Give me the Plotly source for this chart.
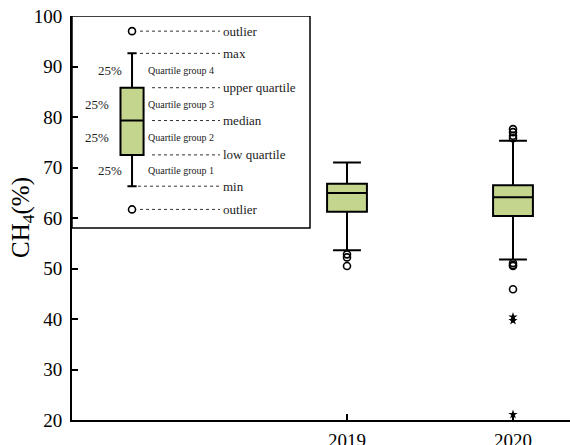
import plotly.graph_objects as go

# ---- data ----
years = [2019, 2020]
q1 = [61.25, 60.4]
median = [64.95, 64.1]
q3 = [66.8, 66.5]
lower_whisker = [53.6, 51.8]
upper_whisker = [71.0, 75.3]

outliers_2019 = [52.8, 52.2, 50.5]
outliers_2020_circle = [77.6, 77.0, 76.3, 75.8, 51.1, 50.7, 50.5, 45.9]
outliers_2020_star = [40.4, 39.7, 21.1]

# schematic legend box (illustrative values)
legend_x = 2017.705
legend_stats = dict(outlier_hi=97.0, max=92.6, q3=85.8, median=79.3, q1=72.5, min=66.3, outlier_lo=61.7)
group_labels = ["Quartile group 4", "Quartile group 3", "Quartile group 2", "Quartile group 1"]
pct_labels = ["25%", "25%", "25%", "25%"]
line_labels = ["outlier", "max", "upper quartile", "median", "low quartile", "min", "outlier"]

box_fill = "#c4d68e"
serif = "Liberation Serif"

# plot area spans 72..570 px; 2019 at 347 px, 166 px per year
def px2x(px):
    return 2019 + (px - 347) / 166.0

fig = go.Figure()

for i, yr in enumerate(years):
    fig.add_trace(go.Box(
        x=[yr], q1=[q1[i]], median=[median[i]], q3=[q3[i]],
        lowerfence=[lower_whisker[i]], upperfence=[upper_whisker[i]],
        width=0.24, whiskerwidth=0.7, boxpoints=False,
        fillcolor=box_fill, line=dict(color="black", width=2),
        showlegend=False,
    ))

fig.add_trace(go.Scatter(
    x=[2019] * len(outliers_2019), y=outliers_2019, mode="markers",
    marker=dict(symbol="circle-open", size=7, color="black", line=dict(width=1.6)),
    showlegend=False))
fig.add_trace(go.Scatter(
    x=[2020] * len(outliers_2020_circle), y=outliers_2020_circle, mode="markers",
    marker=dict(symbol="circle-open", size=7, color="black", line=dict(width=1.6)),
    showlegend=False))
fig.add_trace(go.Scatter(
    x=[2020] * len(outliers_2020_star), y=outliers_2020_star, mode="markers",
    marker=dict(symbol="star", size=7, color="black"),
    showlegend=False))

s = legend_stats
fig.add_trace(go.Box(
    x=[legend_x], q1=[s["q1"]], median=[s["median"]], q3=[s["q3"]],
    lowerfence=[s["min"]], upperfence=[s["max"]],
    width=0.139, whiskerwidth=0.4, boxpoints=False,
    fillcolor=box_fill, line=dict(color="black", width=2),
    showlegend=False))
fig.add_trace(go.Scatter(
    x=[legend_x, legend_x], y=[s["outlier_hi"], s["outlier_lo"]], mode="markers",
    marker=dict(symbol="circle-open", size=7, color="black", line=dict(width=1.6)),
    showlegend=False))

fig.add_shape(type="rect", xref="paper", yref="y", x0=0, x1=(310 - 72) / 498,
              y0=58.0, y1=100, line=dict(color="black", width=1.5), fillcolor="rgba(0,0,0,0)")

line_levels = [s["outlier_hi"], s["max"], s["q3"], s["median"], s["q1"], s["min"], s["outlier_lo"]]
starts = [140, 140, 152, 152, 152, 138, 140]
for lvl, st, lab in zip(line_levels, starts, line_labels):
    fig.add_shape(type="line", xref="x", yref="y", x0=px2x(st), x1=px2x(220),
                  y0=lvl, y1=lvl, line=dict(color="#333333", width=1, dash="dot"))
    fig.add_annotation(x=px2x(221), y=lvl, xref="x", yref="y", text=lab,
                       showarrow=False, xanchor="left", yanchor="middle",
                       font=dict(family=serif, size=13, color="#222222"))

bounds = [s["max"], s["q3"], s["median"], s["q1"], s["min"]]
pct_right = [124, 111, 111, 124]
for k in range(4):
    mid = (bounds[k] + bounds[k + 1]) / 2
    fig.add_annotation(x=px2x(146), y=mid, xref="x", yref="y", text=group_labels[k],
                       showarrow=False, xanchor="left", yanchor="middle",
                       font=dict(family=serif, size=10, color="#222222"))
    fig.add_annotation(x=px2x(pct_right[k]), y=mid, xref="x", yref="y", text=pct_labels[k],
                       showarrow=False, xanchor="right", yanchor="middle",
                       font=dict(family=serif, size=13, color="#222222"))

fig.add_annotation(x=-(72 - 22) / 498, y=0.5, xref="paper", yref="paper",
                   text="CH<sub>4</sub>(%)", textangle=-90, showarrow=False,
                   xanchor="center", yanchor="middle",
                   font=dict(family=serif, size=25, color="black"))

fig.update_xaxes(range=[px2x(72), px2x(570)], tickvals=years, ticktext=[str(y) for y in years],
                 ticks="inside", ticklen=6, tickwidth=2, tickcolor="black", automargin=False,
                 showline=True, linewidth=2, linecolor="black", showgrid=False, zeroline=False,
                 ticklabelstandoff=2,
                 tickfont=dict(family=serif, size=19, color="black"))
fig.update_yaxes(range=[20, 100], tickvals=list(range(20, 101, 10)), automargin=False,
                 ticks="inside", ticklen=6, tickwidth=2, tickcolor="black",
                 showline=True, linewidth=2, linecolor="black", showgrid=False, zeroline=False,
                 ticklabelstandoff=4,
                 tickfont=dict(family=serif, size=19, color="black"))

fig.update_layout(width=570, height=445, margin=dict(l=72, r=0, t=16, b=25),
                  plot_bgcolor="white", paper_bgcolor="white", showlegend=False)

fig.write_html("out.html", config={"displayModeBar": False},
               post_script="document.body.style.margin='0';")
